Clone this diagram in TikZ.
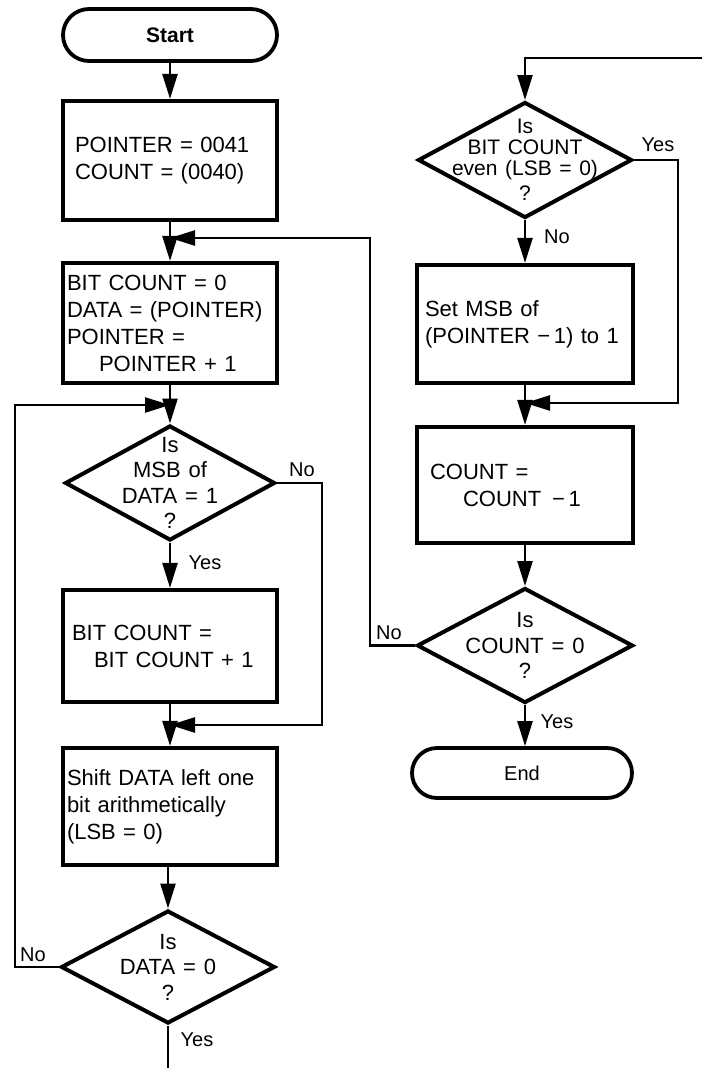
\documentclass[tikz,border=0pt]{standalone}
\usepackage{fontspec}
\setmainfont{Liberation Sans}[WordSpace=1.3]
\usetikzlibrary{arrows.meta,shapes.geometric}
\newcommand\fsz[2]{\fontsize{#1}{#2}\selectfont}
\begin{document}
\begin{tikzpicture}[x=1pt,y=-1pt,
  box/.style={draw, line width=4.2pt, minimum width=214pt, inner ysep=0pt, align=left, font=\fsz{22}{27}},
  term/.style={draw, line width=3.8pt, rounded corners=26pt, minimum height=52pt, font=\fsz{20}{24}},
  dia/.style={draw, diamond, line width=4pt, inner sep=0pt},
  dtext/.style={align=center, font=\fsz{22}{25.5}, inner sep=0pt},
  lbl/.style={font=\fsz{20}{22}, inner sep=0pt},
  conn/.style={line width=2.5pt},
  arr/.style={line width=2.5pt, -{Triangle[length=25pt,width=15pt]}}
]
\useasboundingbox (0,0) rectangle (702,1068);
\fill[white] (0,0) rectangle (702,1068);

% left column
\node[term, minimum width=214pt, font=\fsz{21}{24}\bfseries] (start) at (170,35) {Start};
\node[box, minimum height=119pt, text width=190pt, inner xsep=12pt] (b1) at (170,160.5)
  {POINTER = 0041\\COUNT = (0040)};
\coordinate (j1) at (170,238);
\node[box, minimum height=120pt, text width=206pt, inner xsep=4pt] (b2) at (170,323)
  {BIT COUNT = 0\\DATA = (POINTER)\\POINTER =\\\hspace*{32pt}POINTER + 1};
\coordinate (j2) at (170,405);
\node[dia, minimum width=210pt, minimum height=115pt] (d1) at (170,483) {};
\node[dtext] (d1t) at (d1.center) {Is\\MSB of\\DATA = 1\\?};
\node[box, minimum height=112pt, text width=196pt, inner xsep=9pt] (b3) at (170,646)
  {BIT COUNT =\\\hspace*{22pt}BIT COUNT + 1};
\coordinate (j3) at (170,725);
\node[box, minimum height=117pt, text width=206pt, inner xsep=4pt] (b4) at (170,806.5)
  {Shift DATA left one\\bit arithmetically\\(LSB = 0)};
\node[dia, minimum width=214pt, minimum height=113pt] (d2) at (168,967) {};
\node[dtext] (d2t) at (d2.center) {Is\\DATA = 0\\?};
\coordinate (bot) at (168,1068);

% right column
\coordinate (top) at (702,58);
\coordinate (topc) at (525,58);
\node[dia, minimum width=214pt, minimum height=116pt] (d3) at (525,160) {};
\node[dtext, font=\fsz{21}{21}] (d3t) at (d3.center) {Is\\BIT COUNT\\even (LSB = 0)\\[4pt]?};
\node[box, minimum height=118pt, text width=200pt, inner xsep=8pt] (b5) at (525,324)
  {Set MSB of\\(POINTER −\,1) to 1};
\coordinate (j4) at (525,403);
\node[box, minimum height=116pt, text width=190pt, inner xsep=13pt] (b6) at (525,485)
  {COUNT =\\\hspace*{33pt}COUNT \,−\,1};
\node[dia, minimum width=216pt, minimum height=115pt] (d4) at (525,645.5) {};
\node[dtext] (d4t) at (d4.center) {Is\\COUNT = 0\\?};
\node[term, minimum width=220pt, minimum height=50pt, rounded corners=25pt] (end) at (522,773) {End};

% connectors left
\draw[arr] (start.south) -- (b1.north);
\draw[arr] (b1.south) -- (b2.north);
\draw[arr] (b2.south) -- (d1.north);
\draw[arr] (d1.south) -- (b3.north);
\draw[arr] (b3.south) -- (b4.north);
\draw[arr] (b4.south -| d2.north) -- (d2.north);
\draw[conn] (d2.south) -- (bot);
\coordinate (c1) at (322,483);
\coordinate (c2) at (322,725);
\draw[arr] (d1.east) -- (c1) -- (c2) -- (j3);
\coordinate (c3) at (15,967);
\coordinate (c4) at (15,405);
\draw[arr] (d2.west) -- (c3) -- (c4) -- (j2);

% connectors right
\draw[arr] (top) -- (topc) -- (d3.north);
\draw[arr] (d3.south) -- (b5.north);
\coordinate (c5) at (678,160);
\coordinate (c6) at (678,403);
\draw[arr] (d3.east) -- (c5) -- (c6) -- (j4);
\draw[arr] (b5.south) -- (b6.north);
\draw[arr] (b6.south) -- (d4.north);
\draw[arr] (d4.south) -- (d4.south |- end.north);
\coordinate (c7) at (370,645.5);
\coordinate (c8) at (370,238);
\draw[arr] (d4.west) -- (c7) -- (c8) -- (j1);

% labels
\node[lbl] (l1) at (302,470) {No};
\node[lbl] (l2) at (205,563) {Yes};
\node[lbl] (l3) at (33,955) {No};
\node[lbl] (l4) at (197,1040) {Yes};
\node[lbl] (l5) at (658,145) {Yes};
\node[lbl] (l6) at (557,237) {No};
\node[lbl] (l7) at (389,633) {No};
\node[lbl] (l8) at (557,722) {Yes};
\end{tikzpicture}
\end{document}
